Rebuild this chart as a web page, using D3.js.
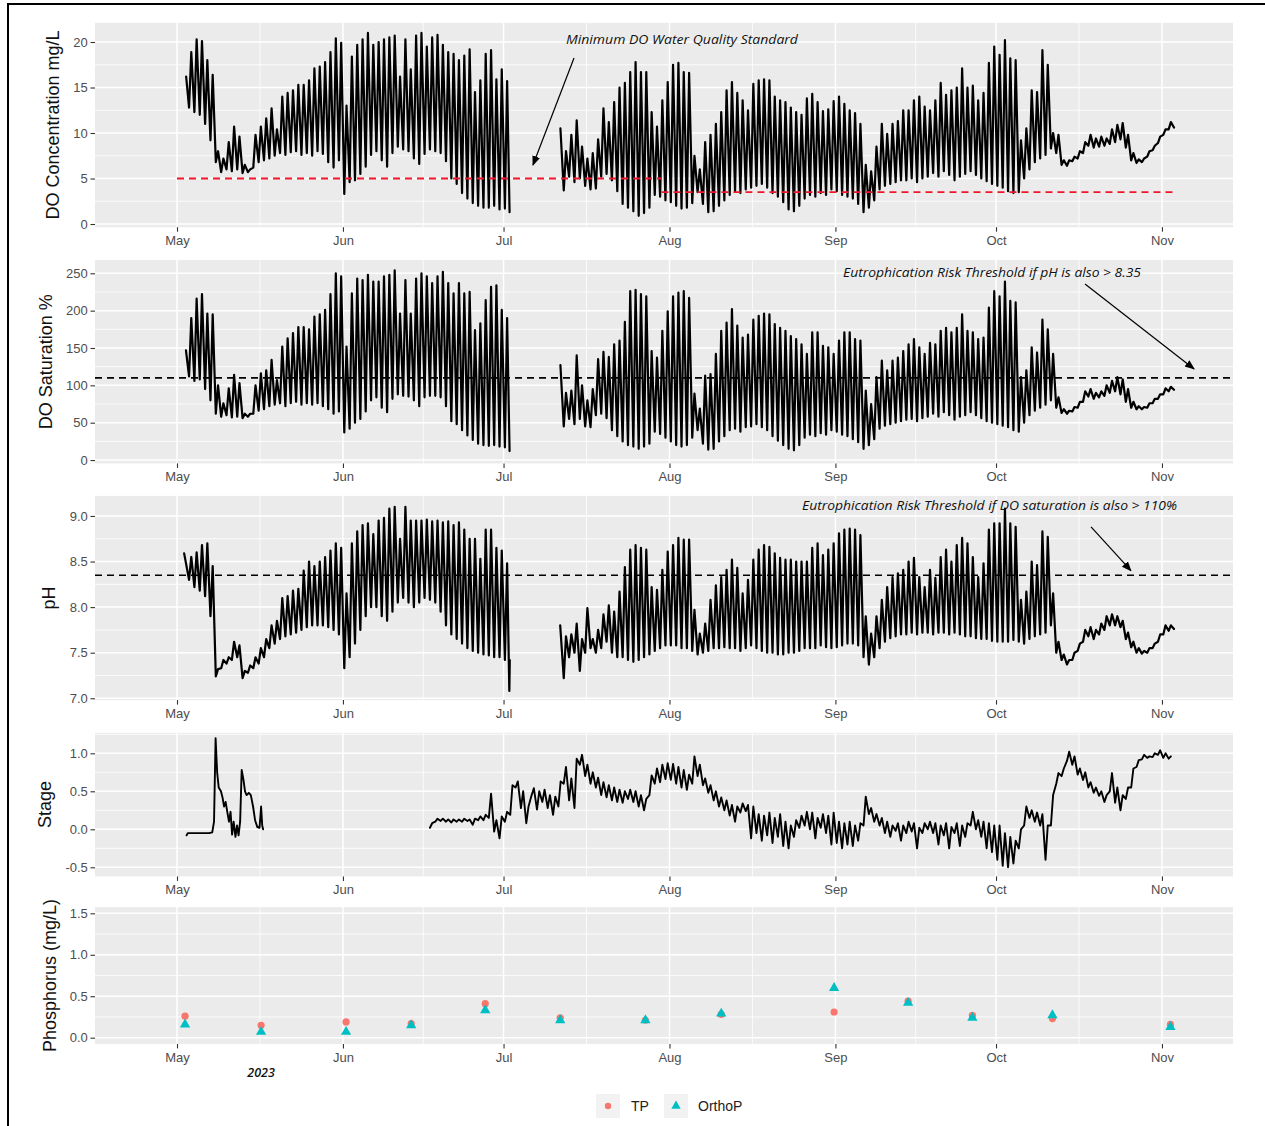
<!DOCTYPE html>
<html>
<head>
<meta charset="utf-8">
<script src="https://cdn.jsdelivr.net/npm/d3@7"></script>
<style>
  body { margin: 0; background: #fff; }
  svg { display: block; }
</style>
</head>
<body>
<svg id="chart" width="1265" height="1126"></svg>
<script>
// ---------------- data ----------------
const monthTicks = ["2023-05-01", "2023-06-01", "2023-07-01", "2023-08-01", "2023-09-01", "2023-10-01", "2023-11-01"];
const monthLabels = ["May", "Jun", "Jul", "Aug", "Sep", "Oct", "Nov"];

// Dissolved oxygen concentration (mg/L): daily morning low and afternoon high
const doConcA_start = "2023-05-03";
const doConcA_low = [12.8,12.3,12.0,11.0,9.2,6.8,5.7,6.0,5.8,6.0,5.6,5.7,6.2,6.8,7.0,7.2,7.5,7.8,7.6,7.9,8.0,7.6,7.8,7.5,8.0,7.7,6.8,6.2,7.0,3.3,4.6,4.8,5.5,6.3,7.6,8.0,7.0,6.3,7.8,8.5,8.2,8.0,7.2,6.6,7.7,8.2,8.0,7.8,6.9,5.0,4.4,3.4,2.8,2.3,2.0,1.8,1.8,2.0,1.6,1.7];
const doConcA_high = [18.9,20.3,20.1,18.0,16.4,8.0,7.2,9.0,10.7,9.6,6.5,6.0,9.8,10.7,11.6,12.7,10.4,14.0,14.4,14.7,15.3,15.3,15.8,17.1,17.3,17.8,18.9,20.4,19.9,13.0,18.4,19.7,20.3,21.0,19.7,20.0,20.3,20.5,20.7,16.2,20.3,17.0,20.7,21.0,19.5,20.5,20.8,19.7,18.9,18.7,18.0,18.5,19.2,14.5,15.8,18.7,19.1,15.9,17.0,15.7];
const doConcA_head = [["2023-05-02T17:00", 16.2]];
const doConcA_tail = [["2023-07-02T03:00", 1.3]];

const doConcB_start = "2023-07-12";
const doConcB_low = [3.7,5.2,4.6,5.0,4.2,3.8,3.9,5.2,5.5,4.8,3.6,2.2,1.8,1.4,0.9,1.2,1.8,3.2,3.0,2.6,2.4,2.0,1.7,1.8,2.3,3.5,2.2,1.3,1.4,2.0,2.6,3.2,3.6,3.4,3.8,4.0,4.2,4.4,4.0,3.4,3.0,2.4,1.6,1.4,2.0,2.8,3.2,3.0,3.4,3.2,3.8,3.6,3.2,3.0,2.8,2.2,1.3,1.8,2.6,3.8,4.2,4.4,4.6,4.8,4.8,5.0,4.6,5.0,5.2,5.6,5.2,5.8,5.4,4.8,5.2,5.5,5.8,5.4,5.0,4.7,4.4,4.2,4.0,3.6,3.4,3.5,5.0,6.0,6.8,7.2,7.6,8.3,7.8,6.5,6.4,6.9,7.2,7.8,8.6,8.4,8.5,8.6,8.8,9.0,9.3,8.4,7.0,6.7,6.8,7.4,8.1,8.9,9.8,10.4];
const doConcB_high = [8.0,9.8,11.4,8.5,7.2,7.8,9.3,12.7,11.2,13.4,15.0,15.5,16.7,17.8,16.7,16.7,12.3,10.7,13.6,15.6,17.5,17.7,16.7,16.6,7.5,6.0,9.0,9.8,11.0,12.3,14.7,15.6,14.4,13.6,12.5,15.4,15.8,15.9,15.8,14.0,13.6,13.4,12.8,12.3,12.0,13.8,14.3,13.4,12.4,12.6,13.5,14.0,13.2,12.5,12.2,11.0,6.5,5.8,8.5,11.0,9.9,11.0,11.3,12.5,12.5,13.6,14.0,12.9,12.5,13.6,15.5,14.2,14.7,15.0,17.1,15.0,15.2,13.6,14.4,17.7,19.5,18.6,20.2,18.2,18.0,9.2,10.5,14.7,14.5,19.1,17.5,10.0,9.8,7.0,7.0,7.4,8.0,9.0,9.8,9.4,9.6,9.4,10.4,10.9,11.1,9.8,7.8,7.1,7.2,8.0,8.6,9.6,10.4,11.2];
const doConcB_head = [["2023-07-11T15:00", 10.5]];
const doConcB_tail = [["2023-11-03T06:00", 10.6]];

// Minimum DO standard (mg/L), seasonal
const doStandardFrom = ["2023-05-01T00:00", "2023-07-30T12:00"];
const doStandardTo = ["2023-07-30T12:00", "2023-11-03T12:00"];
const doStandardValue = [5, 3.5];

// Dissolved oxygen saturation (%)
const doSatA_start = "2023-05-03";
const doSatA_low = [112,106,108,95,80,62,58,60,57,58,56,58,62,66,68,72,74,76,72,76,78,74,76,74,76,72,68,62,65,37,42,50,55,65,80,84,70,64,82,88,86,85,80,72,84,86,86,84,72,52,48,40,33,27,22,20,19,20,18,17];
const doSatA_high = [190,216,222,196,195,100,76,96,114,103,62,62,100,116,120,134,107,152,163,170,178,178,175,192,195,201,222,250,246,152,223,243,241,248,239,239,246,248,254,196,241,196,243,250,246,237,246,252,237,223,237,223,225,174,183,214,232,234,201,190];
const doSatA_head = [["2023-05-02T16:00", 147]];
const doSatA_tail = [["2023-07-02T03:00", 12]];

const doSatB_start = "2023-07-12";
const doSatB_low = [45,55,48,55,45,44,60,62,56,40,32,25,20,18,15,18,22,38,35,30,25,20,18,20,30,40,22,14,15,25,32,40,42,38,44,45,48,44,40,32,26,20,15,13,20,30,34,32,36,34,40,38,34,32,28,24,15,20,28,42,46,48,50,52,54,55,52,56,58,62,58,64,60,54,58,60,64,60,56,52,50,48,46,44,40,38,50,60,66,70,74,80,70,63,62,65,70,78,85,82,84,86,90,92,88,78,70,68,68,70,76,82,88,92];
const doSatB_high = [90,93,140,100,80,95,135,145,138,155,160,185,226,228,222,219,146,137,173,199,219,224,226,217,89,69,113,115,142,173,184,202,180,164,168,188,193,196,195,182,177,173,166,162,155,142,171,171,153,151,142,160,171,171,162,160,93,75,111,133,120,133,137,146,155,162,151,142,157,155,173,177,171,177,195,173,171,162,164,204,226,219,239,213,211,111,120,151,144,188,175,142,84,68,66,71,78,92,95,90,92,100,106,111,108,95,78,72,71,76,82,88,96,98];
const doSatB_head = [["2023-07-11T15:00", 127]];
const doSatB_tail = [["2023-11-03T06:00", 94]];
const satThreshold = 110;

// pH
const phA_start = "2023-05-03";
const phA_low = [8.30,8.22,8.18,8.12,7.90,7.24,7.33,7.38,7.42,7.45,7.22,7.28,7.33,7.38,7.45,7.55,7.60,7.65,7.68,7.70,7.72,7.75,7.78,7.80,7.80,7.80,7.78,7.75,7.70,7.33,7.45,7.60,7.75,7.90,8.00,8.00,7.90,7.85,7.95,8.05,8.10,8.05,8.00,8.05,8.10,8.08,8.05,7.95,7.80,7.70,7.65,7.60,7.55,7.52,7.50,7.48,7.47,7.45,7.45,7.42];
const phA_high = [8.55,8.60,8.68,8.70,8.45,7.32,7.42,7.45,7.62,7.58,7.30,7.36,7.45,7.55,7.65,7.80,7.85,8.10,8.12,8.18,8.20,8.40,8.50,8.45,8.50,8.55,8.62,8.70,8.65,8.15,8.70,8.83,8.90,8.92,8.80,8.95,8.98,9.08,9.10,8.75,9.10,8.95,8.95,8.95,8.96,8.94,8.95,8.93,8.94,8.90,8.93,8.85,8.75,8.75,8.53,8.85,8.85,8.65,8.62,8.48];
const phA_head = [["2023-05-02T08:00", 8.59]];
const phA_tail = [["2023-07-02T00:00", 7.35], ["2023-07-02T02:00", 7.08], ["2023-07-02T04:00", 7.42]];

const phB_start = "2023-07-12";
const phB_low = [7.22,7.45,7.50,7.30,7.50,7.55,7.50,7.55,7.62,7.50,7.45,7.45,7.42,7.40,7.42,7.45,7.48,7.52,7.55,7.58,7.58,7.58,7.55,7.55,7.52,7.48,7.50,7.52,7.55,7.55,7.56,7.55,7.55,7.52,7.55,7.58,7.55,7.52,7.50,7.50,7.48,7.48,7.50,7.50,7.52,7.55,7.55,7.55,7.58,7.56,7.55,7.56,7.58,7.60,7.60,7.58,7.45,7.37,7.45,7.55,7.62,7.66,7.68,7.70,7.70,7.72,7.70,7.72,7.72,7.70,7.72,7.72,7.70,7.72,7.70,7.68,7.68,7.66,7.65,7.65,7.63,7.62,7.62,7.62,7.64,7.62,7.60,7.65,7.68,7.70,7.72,7.80,7.50,7.42,7.37,7.42,7.52,7.62,7.68,7.65,7.70,7.75,7.80,7.80,7.78,7.65,7.56,7.50,7.49,7.50,7.55,7.62,7.70,7.74];
const phB_high = [7.68,7.70,7.82,7.65,7.99,7.65,7.75,7.92,8.02,7.95,8.17,8.44,8.63,8.68,8.65,8.63,8.22,8.19,8.41,8.61,8.68,8.76,8.74,8.74,7.97,7.71,7.82,8.08,8.24,8.33,8.41,8.52,8.43,8.15,8.30,8.52,8.63,8.68,8.66,8.59,8.54,8.52,8.52,8.50,8.50,8.50,8.65,8.70,8.57,8.63,8.70,8.81,8.85,8.86,8.85,8.79,7.90,7.71,7.90,8.08,8.22,8.33,8.37,8.41,8.50,8.54,8.33,8.22,8.41,8.32,8.55,8.63,8.50,8.68,8.76,8.70,8.55,8.33,8.48,8.85,8.92,8.92,9.08,8.92,8.88,8.08,8.17,8.50,8.46,8.83,8.77,8.15,7.62,7.48,7.42,7.50,7.60,7.75,7.78,7.75,7.82,7.90,7.92,7.90,7.85,7.72,7.62,7.55,7.52,7.55,7.60,7.70,7.80,7.80];
const phB_head = [["2023-07-11T14:00", 7.80]];
const phB_tail = [["2023-11-03T06:00", 7.76]];
const phThreshold = 8.35;

// Stage: storm-event readings in May, then daily low/high from mid-June
const stageA_time = ["2023-05-02T19:00","2023-05-03T00:00","2023-05-04T00:00","2023-05-05T00:00","2023-05-06T00:00","2023-05-07T00:00","2023-05-07T14:00","2023-05-07T22:00","2023-05-08T05:00","2023-05-08T12:00","2023-05-08T19:00","2023-05-09T05:00","2023-05-09T12:00","2023-05-09T19:00","2023-05-10T02:00","2023-05-10T10:00","2023-05-10T17:00","2023-05-11T00:00","2023-05-11T07:00","2023-05-11T14:00","2023-05-11T22:00","2023-05-12T05:00","2023-05-12T12:00","2023-05-12T19:00","2023-05-13T02:00","2023-05-13T10:00","2023-05-13T17:00","2023-05-14T00:00","2023-05-14T10:00","2023-05-14T19:00","2023-05-15T05:00","2023-05-15T14:00","2023-05-16T00:00","2023-05-16T10:00","2023-05-16T17:00","2023-05-16T22:00","2023-05-17T02:00"];
const stageA_value = [-0.08,-0.05,-0.05,-0.05,-0.05,-0.05,-0.04,0.10,1.20,0.75,0.55,0.50,0.42,0.30,0.36,0.22,0.10,0.23,-0.07,0.10,-0.10,0.05,-0.08,0.10,0.78,0.65,0.50,0.45,0.48,0.45,0.30,0.12,0.03,0.02,0.30,0.05,0.00];

const stageB_start = "2023-06-17";
const stageB_low = [0.02,0.10,0.11,0.10,0.09,0.10,0.10,0.11,0.06,0.12,0.12,0.15,-0.03,-0.12,0.10,0.19,0.55,0.28,0.08,0.45,0.26,0.36,0.28,0.19,0.30,0.60,0.38,0.28,0.85,0.70,0.60,0.55,0.45,0.42,0.38,0.36,0.35,0.40,0.36,0.30,0.25,0.45,0.60,0.62,0.66,0.65,0.60,0.55,0.52,0.60,0.70,0.58,0.48,0.38,0.30,0.25,0.18,0.10,0.22,0.24,-0.12,-0.05,-0.15,-0.08,-0.18,-0.10,-0.22,-0.25,-0.10,0.02,0.05,0.00,-0.12,0.02,-0.05,-0.20,-0.18,-0.25,-0.20,-0.22,-0.15,0.05,0.20,0.10,0.05,-0.05,-0.10,-0.02,-0.15,-0.05,-0.03,-0.25,-0.05,0.00,-0.05,-0.20,-0.08,-0.25,-0.05,-0.22,-0.10,0.05,0.00,-0.10,-0.25,-0.30,-0.40,-0.48,-0.50,-0.45,-0.25,0.05,0.15,0.10,0.05,-0.40,0.05,0.60,0.70,0.90,0.85,0.72,0.65,0.55,0.48,0.44,0.36,0.50,0.35,0.25,0.40,0.55,0.82,0.92,0.94,0.95,0.98,0.94,0.93];
const stageB_high = [0.08,0.14,0.14,0.13,0.13,0.13,0.14,0.13,0.14,0.17,0.19,0.47,0.12,0.17,0.23,0.58,0.63,0.50,0.30,0.54,0.50,0.52,0.45,0.43,0.63,0.82,0.67,0.93,0.98,0.85,0.75,0.68,0.62,0.58,0.55,0.52,0.50,0.52,0.50,0.45,0.40,0.71,0.80,0.85,0.87,0.86,0.82,0.78,0.72,0.96,0.85,0.67,0.58,0.50,0.42,0.38,0.32,0.30,0.34,0.32,0.30,0.20,0.18,0.22,0.15,0.20,0.10,0.05,0.12,0.18,0.23,0.22,0.15,0.20,0.18,0.22,0.10,0.08,0.10,0.05,0.08,0.43,0.28,0.20,0.15,0.10,0.05,0.08,0.05,0.10,0.08,0.02,0.08,0.10,0.08,0.05,0.08,0.03,0.08,0.05,0.08,0.23,0.12,0.10,0.08,0.05,0.05,-0.05,-0.10,-0.15,0.00,0.30,0.25,0.22,0.20,0.05,0.45,0.74,0.80,1.02,0.96,0.80,0.75,0.62,0.55,0.50,0.45,0.74,0.55,0.45,0.55,0.80,0.91,0.98,0.96,1.00,1.04,1.00,0.96];

// Phosphorus grab samples (mg/L)
const pSampleTime = ["2023-05-02T12:00","2023-05-16T17:00","2023-06-01T14:00","2023-06-13T18:00","2023-06-27T14:00","2023-07-11T14:00","2023-07-27T12:00","2023-08-10T16:00","2023-08-31T18:00","2023-09-14T14:00","2023-09-26T14:00","2023-10-11T13:00","2023-11-02T14:00"];
const tpValue     = [0.26,0.15,0.19,0.17,0.41,0.24,0.21,0.28,0.31,0.44,0.27,0.23,0.16];
const orthoPValue = [0.16,0.07,0.07,0.15,0.33,0.21,0.21,0.29,0.60,0.42,0.24,0.27,0.13];

// y tick values per panel
const doTicks = [0, 5, 10, 15, 20];
const satTicks = [0, 50, 100, 150, 200, 250];
const phTicks = [7.0, 7.5, 8.0, 8.5, 9.0];
const stageTicks = [-0.5, 0.0, 0.5, 1.0];
const pTicks = [0.0, 0.5, 1.0, 1.5];

// ---------------- helpers ----------------
const parseT = d3.timeParse("%Y-%m-%dT%H:%M");
const parseD = d3.timeParse("%Y-%m-%d");
const toDate = s => (s.length > 10 ? parseT(s) : parseD(s));
const oneDecimal = v => v.toFixed(1);
const integer = v => String(Math.round(v));

function dailyTrace(start, lows, highs, head, tail) {
  const t0 = parseD(start);
  const pts = (head || []).map(([t, v]) => ({ t: toDate(t), v }));
  lows.forEach((lo, i) => {
    const day = d3.timeDay.offset(t0, i);
    pts.push({ t: d3.timeHour.offset(day, 6), v: lo });
    pts.push({ t: d3.timeHour.offset(day, 16), v: highs[i] });
  });
  (tail || []).forEach(([t, v]) => pts.push({ t: toDate(t), v }));
  return pts;
}

const svg = d3.select("#chart");
const FONT = "'Liberation Sans', Arial, sans-serif";
const ANNOT_FONT = "'Open Sans', 'Noto Sans', sans-serif";

const x = d3.scaleTime()
  .domain([parseT("2023-04-15T16:20"), parseT("2023-11-14T06:30")])
  .range([95, 1233]);
const monthDates = monthTicks.map(parseD);

// outer frame
svg.append("rect").attr("x", 8).attr("y", 4).attr("width", 1300).attr("height", 1200)
  .attr("fill", "none").attr("stroke", "#000").attr("stroke-width", 2);

// arrowhead marker
svg.append("defs").append("marker")
  .attr("id", "arrowhead").attr("viewBox", "0 0 10 10")
  .attr("refX", 9).attr("refY", 5)
  .attr("markerWidth", 10).attr("markerHeight", 10)
  .attr("markerUnits", "userSpaceOnUse")
  .attr("orient", "auto")
  .append("path").attr("d", "M0,1 L10,5 L0,9 Z").attr("fill", "#000");

const panels = [
  { id: "do",    top: 22.9,  bottom: 227.2,  domain: [-0.35, 22.1],  ticks: doTicks,    fmt: integer,    title: "DO Concentration mg/L", titleX: 53 },
  { id: "sat",   top: 260.0, bottom: 463.4,  domain: [-4.5, 267.8],  ticks: satTicks,   fmt: integer,    title: "DO Saturation %",        titleX: 46 },
  { id: "ph",    top: 495.9, bottom: 700.1,  domain: [6.98, 9.22],   ticks: phTicks,    fmt: oneDecimal, title: "pH",                     titleX: 49 },
  { id: "stage", top: 732.8, bottom: 876.4,  domain: [-0.62, 1.27],  ticks: stageTicks, fmt: oneDecimal, title: "Stage",                  titleX: 45 },
  { id: "p",     top: 907.1, bottom: 1043.9, domain: [-0.075, 1.575],ticks: pTicks,     fmt: oneDecimal, title: "Phosphorus (mg/L)",      titleX: 50 }
];

const [x0, x1] = x.range();

function midpoints(vals, lo, hi) {
  const out = [];
  const step = vals[1] - vals[0];
  const ext = [vals[0] - step, ...vals, vals[vals.length - 1] + step];
  for (let i = 0; i < ext.length - 1; i++) {
    const m = (ext[i] + ext[i + 1]) / 2;
    if (m > lo && m < hi) out.push(m);
  }
  return out;
}

function timeMidpoints(dates) {
  const out = [];
  for (let i = 0; i < dates.length - 1; i++) out.push(new Date((+dates[i] + +dates[i + 1]) / 2));
  out.push(new Date(+dates[dates.length - 1] + (dates[dates.length - 1] - dates[dates.length - 2]) / 2));
  out.unshift(new Date(+dates[0] - (dates[1] - dates[0]) / 2));
  return out.filter(d => x(d) > x0 + 1 && x(d) < x1 - 1);
}

const layers = {};
panels.forEach(p => {
  const y = d3.scaleLinear().domain(p.domain).range([p.bottom, p.top]);
  p.y = y;
  const g = svg.append("g").attr("class", "panel-" + p.id);
  layers[p.id] = g;

  g.append("rect").attr("x", x0).attr("y", p.top).attr("width", x1 - x0).attr("height", p.bottom - p.top).attr("fill", "#EBEBEB");

  const clipId = "clip-" + p.id;
  svg.select("defs").append("clipPath").attr("id", clipId)
    .append("rect").attr("x", x0).attr("y", p.top).attr("width", x1 - x0).attr("height", p.bottom - p.top);
  p.clip = `url(#${clipId})`;

  const grid = g.append("g");
  // minor grid
  midpoints(p.ticks, p.domain[0], p.domain[1]).forEach(v => {
    grid.append("line").attr("x1", x0).attr("x2", x1).attr("y1", y(v)).attr("y2", y(v)).attr("stroke", "#fff").attr("stroke-width", 0.8);
  });
  timeMidpoints(monthDates).forEach(d => {
    grid.append("line").attr("x1", x(d)).attr("x2", x(d)).attr("y1", p.top).attr("y2", p.bottom).attr("stroke", "#fff").attr("stroke-width", 0.8);
  });
  // major grid
  p.ticks.forEach(v => {
    grid.append("line").attr("x1", x0).attr("x2", x1).attr("y1", y(v)).attr("y2", y(v)).attr("stroke", "#fff").attr("stroke-width", 1.5);
  });
  monthDates.forEach(d => {
    grid.append("line").attr("x1", x(d)).attr("x2", x(d)).attr("y1", p.top).attr("y2", p.bottom).attr("stroke", "#fff").attr("stroke-width", 1.5);
  });

  // axes
  const ya = d3.axisLeft(y).tickValues(p.ticks).tickFormat(p.fmt).tickSize(4.5).tickPadding(2.7);
  g.append("g").attr("transform", `translate(${x0},0)`).call(ya)
    .call(a => a.select(".domain").remove())
    .call(a => a.selectAll("line").attr("stroke", "#333").attr("stroke-width", 1.1))
    .call(a => a.selectAll("text").attr("fill", "#4D4D4D").style("font-family", FONT).style("font-size", "13px"));

  const xa = d3.axisBottom(x).tickValues(monthDates).tickFormat((d, i) => monthLabels[i]).tickSize(4.5).tickPadding(4);
  g.append("g").attr("transform", `translate(0,${p.bottom})`).call(xa)
    .call(a => a.select(".domain").remove())
    .call(a => a.selectAll("line").attr("stroke", "#333").attr("stroke-width", 1.1))
    .call(a => a.selectAll("text").attr("fill", "#4D4D4D").style("font-family", FONT).style("font-size", "13px"));

  // axis title
  const cy = (p.top + p.bottom) / 2;
  g.append("text").attr("transform", `translate(${p.titleX},${cy}) rotate(-90)`)
    .attr("text-anchor", "middle").attr("dominant-baseline", "central")
    .attr("fill", "#111").style("font-family", FONT).style("font-size", "18px")
    .text(p.title);
});

function drawTrace(panelId, pts, width) {
  const p = panels.find(q => q.id === panelId);
  const line = d3.line().x(d => x(d.t)).y(d => p.y(d.v));
  layers[panelId].append("path").datum(pts)
    .attr("clip-path", p.clip)
    .attr("d", line).attr("fill", "none").attr("stroke", "#000")
    .attr("stroke-width", width || 2.2).attr("stroke-linejoin", "round").attr("stroke-linecap", "round");
}

// ----- panel 1: DO concentration -----
drawTrace("do", dailyTrace(doConcA_start, doConcA_low, doConcA_high, doConcA_head, doConcA_tail));
drawTrace("do", dailyTrace(doConcB_start, doConcB_low, doConcB_high, doConcB_head, doConcB_tail));
{
  const p = panels[0];
  doStandardValue.forEach((v, i) => {
    layers.do.append("line")
      .attr("x1", x(parseT(doStandardFrom[i]))).attr("x2", x(parseT(doStandardTo[i])))
      .attr("y1", p.y(v)).attr("y2", p.y(v))
      .attr("stroke", "#F2152B").attr("stroke-width", 1.8).attr("stroke-dasharray", "7,5");
  });
}

// ----- panel 2: DO saturation -----
drawTrace("sat", dailyTrace(doSatA_start, doSatA_low, doSatA_high, doSatA_head, doSatA_tail));
drawTrace("sat", dailyTrace(doSatB_start, doSatB_low, doSatB_high, doSatB_head, doSatB_tail));
layers.sat.append("line").attr("x1", x0).attr("x2", x1)
  .attr("y1", panels[1].y(satThreshold)).attr("y2", panels[1].y(satThreshold))
  .attr("stroke", "#000").attr("stroke-width", 1.6).attr("stroke-dasharray", "7,5");

// ----- panel 3: pH -----
drawTrace("ph", dailyTrace(phA_start, phA_low, phA_high, phA_head, phA_tail));
drawTrace("ph", dailyTrace(phB_start, phB_low, phB_high, phB_head, phB_tail));
layers.ph.append("line").attr("x1", x0).attr("x2", x1)
  .attr("y1", panels[2].y(phThreshold)).attr("y2", panels[2].y(phThreshold))
  .attr("stroke", "#000").attr("stroke-width", 1.6).attr("stroke-dasharray", "7,5");

// ----- panel 4: stage -----
drawTrace("stage", stageA_time.map((t, i) => ({ t: parseT(t), v: stageA_value[i] })), 1.9);
drawTrace("stage", dailyTrace(stageB_start, stageB_low, stageB_high), 1.9);

// ----- panel 5: phosphorus -----
{
  const p = panels[4];
  const g = layers.p;
  pSampleTime.forEach((t, i) => {
    g.append("circle").attr("cx", x(parseT(t))).attr("cy", p.y(tpValue[i])).attr("r", 3.6).attr("fill", "#F8766D");
  });
  const tri = d3.symbol().type(d3.symbolTriangle).size(46);
  pSampleTime.forEach((t, i) => {
    g.append("path").attr("d", tri())
      .attr("transform", `translate(${x(parseT(t))},${p.y(orthoPValue[i])})`)
      .attr("fill", "#00BFC4");
  });
}

// ----- annotations -----
const annotations = [
  { panel: "do",  text: "Minimum DO Water Quality Standard", at: ["2023-08-03T08:00", 20.33], width: 232,
    from: ["2023-07-14T04:00", 18.24], to: ["2023-07-06T12:00", 6.48] },
  { panel: "sat", text: "Eutrophication Risk Threshold if pH is also > 8.35", at: ["2023-09-30T06:00", 251.7], width: 298,
    from: ["2023-10-17T15:00", 235.7], to: ["2023-11-07T00:00", 121.9] },
  { panel: "ph",  text: "Eutrophication Risk Threshold if DO saturation is also > 110%", at: ["2023-09-29T19:00", 9.12], width: 375,
    from: ["2023-10-18T18:00", 8.88], to: ["2023-10-26T05:00", 8.40] }
];
annotations.forEach(a => {
  const p = panels.find(q => q.id === a.panel);
  const g = layers[a.panel];
  g.append("text")
    .attr("x", x(parseT(a.at[0]))).attr("y", p.y(a.at[1]))
    .attr("text-anchor", "middle").attr("dominant-baseline", "central")
    .attr("textLength", a.width).attr("lengthAdjust", "spacingAndGlyphs")
    .attr("fill", "#111").style("font-family", ANNOT_FONT).style("font-style", "italic").style("font-size", "12.5px")
    .text(a.text);
  g.append("line")
    .attr("x1", x(parseT(a.from[0]))).attr("y1", p.y(a.from[1]))
    .attr("x2", x(parseT(a.to[0]))).attr("y2", p.y(a.to[1]))
    .attr("stroke", "#000").attr("stroke-width", 1.2)
    .attr("marker-end", "url(#arrowhead)");
});

// year caption under the bottom axis
svg.append("text").attr("x", x(parseT("2023-05-16T17:00"))).attr("y", 1072)
  .attr("text-anchor", "middle").attr("dominant-baseline", "central")
  .attr("fill", "#111").style("font-family", ANNOT_FONT).style("font-style", "italic")
  .style("font-weight", "600").style("font-size", "12.5px").text("2023");

// legend
{
  const lg = svg.append("g").attr("transform", "translate(0,1106)");
  const keys = [
    { label: "TP", cx: 608, tx: 631, shape: "circle", color: "#F8766D" },
    { label: "OrthoP", cx: 676, tx: 698, shape: "triangle", color: "#00BFC4" }
  ];
  keys.forEach(k => {
    lg.append("rect").attr("x", k.cx - 12).attr("y", -12).attr("width", 24).attr("height", 24).attr("fill", "#F2F2F2");
    if (k.shape === "circle") {
      lg.append("circle").attr("cx", k.cx).attr("cy", 0).attr("r", 3.2).attr("fill", k.color);
    } else {
      lg.append("path").attr("d", d3.symbol().type(d3.symbolTriangle).size(38)()).attr("transform", `translate(${k.cx},0)`).attr("fill", k.color);
    }
    lg.append("text").attr("x", k.tx).attr("y", 0).attr("dominant-baseline", "central")
      .attr("fill", "#222").style("font-family", FONT).style("font-size", "14px").text(k.label);
  });
}
</script>
</body>
</html>
